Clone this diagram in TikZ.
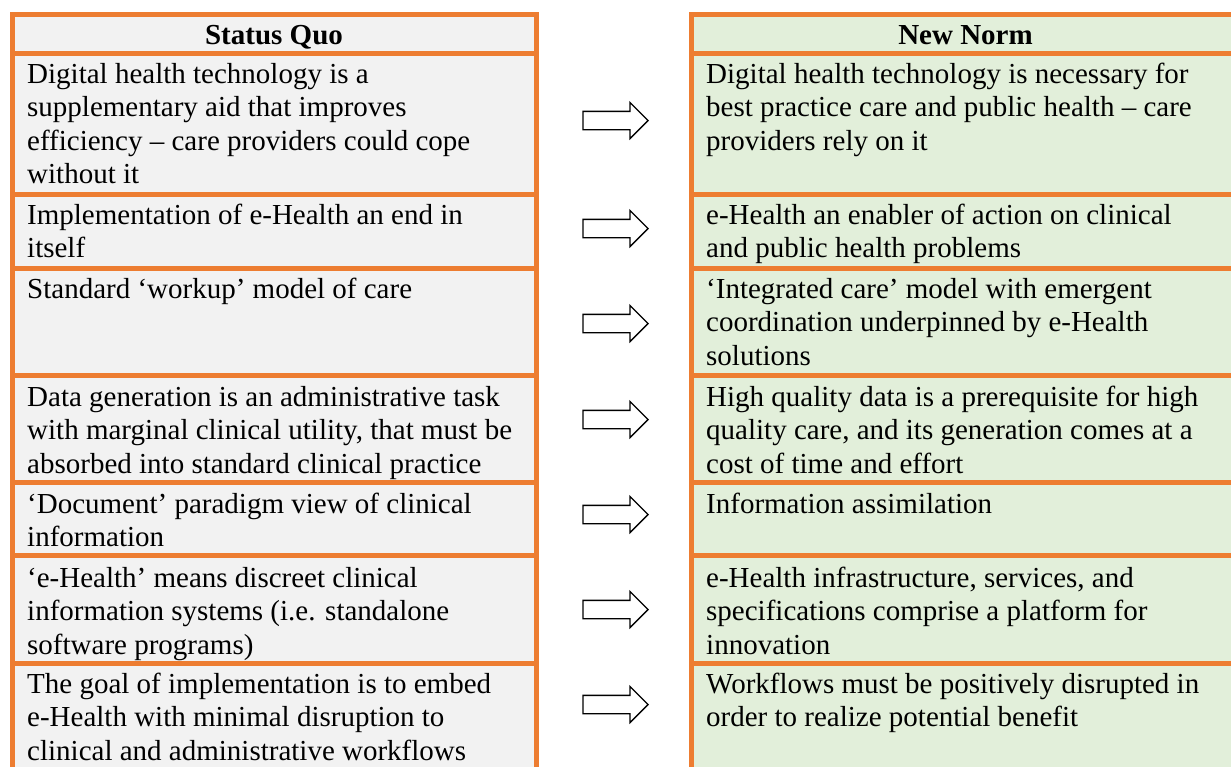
\documentclass[tikz,border=0pt]{standalone}
\usepackage{fontspec}
\setmainfont{Liberation Serif}
\usetikzlibrary{shapes.arrows}
\definecolor{bord}{HTML}{ED7D31}
\definecolor{sqfill}{HTML}{F2F2F2}
\definecolor{nnfill}{HTML}{E2EFDA}
\newcommand{\celltxt}[1]{\parbox[t]{525pt}{\raggedright #1}}
\tikzset{
  cellL/.style={fill=sqfill, draw=bord, line width=5pt},
  cellR/.style={fill=nnfill, draw=bord, line width=5pt},
  celltext/.style={anchor=base west, inner sep=0pt, font=\fontsize{29}{33.6}\selectfont},
  headtext/.style={anchor=base, inner sep=0pt, font=\fontsize{29}{33.6}\selectfont\bfseries},
  shiftarrow/.style={single arrow, draw=black, fill=white, line width=1.3pt,
    minimum height=65pt, single arrow head extend=9pt, inner xsep=0pt,
    inner ysep=8.5pt, text height=0pt, text depth=0pt}
}
\begin{document}
\begin{tikzpicture}[x=1pt, y=-1pt]
\useasboundingbox (0,0) rectangle (1231,766);
\clip (0,0) rectangle (1231,766);
\fill[white] (0,0) rectangle (1231,766);
% left column cells
\draw[cellL] (12,14.5) rectangle (536,53.5);
\draw[cellL] (12,53.5) rectangle (536,194.5);
\draw[cellL] (12,194.5) rectangle (536,268.5);
\draw[cellL] (12,268.5) rectangle (536,375.5);
\draw[cellL] (12,375.5) rectangle (536,482.5);
\draw[cellL] (12,482.5) rectangle (536,555.5);
\draw[cellL] (12,555.5) rectangle (536,663.5);
\draw[cellL] (12,663.5) rectangle (536,800);
% right column cells
\draw[cellR] (691,14.5) rectangle (1240,53.5);
\draw[cellR] (691,53.5) rectangle (1240,194.5);
\draw[cellR] (691,194.5) rectangle (1240,268.5);
\draw[cellR] (691,268.5) rectangle (1240,375.5);
\draw[cellR] (691,375.5) rectangle (1240,482.5);
\draw[cellR] (691,482.5) rectangle (1240,555.5);
\draw[cellR] (691,555.5) rectangle (1240,663.5);
\draw[cellR] (691,663.5) rectangle (1240,800);
% headers
\node[headtext] (hL) at (274,44) {Status Quo};
\node[headtext] (hR) at (965.5,44) {New Norm};
% left texts
\node[celltext] (L1) at (27,83) {\celltxt{Digital health technology is a\\supplementary aid that improves\\efficiency – care providers could cope\\without it}};
\node[celltext] (L2) at (27,224) {\celltxt{Implementation of e-Health an end in\\itself}};
\node[celltext] (L3) at (27,298) {\celltxt{Standard ‘workup’ model of care}};
\node[celltext] (L4) at (27,406) {\celltxt{Data generation is an administrative task\\with marginal clinical utility, that must be\\absorbed into standard clinical practice}};
\node[celltext] (L5) at (27,513) {\celltxt{‘Document’ paradigm view of clinical\\information}};
\node[celltext] (L6) at (27,587) {\celltxt{‘e-Health’ means discreet clinical\\information systems (i.e. standalone\\software programs)}};
\node[celltext] (L7) at (27,693) {\celltxt{The goal of implementation is to embed\\e-Health with minimal disruption to\\clinical and administrative workflows}};
% right texts
\node[celltext] (R1) at (706,83) {\celltxt{Digital health technology is necessary for\\best practice care and public health – care\\providers rely on it}};
\node[celltext] (R2) at (706,224) {\celltxt{e-Health an enabler of action on clinical\\and public health problems}};
\node[celltext] (R3) at (706,298) {\celltxt{‘Integrated care’ model with emergent\\coordination underpinned by e-Health\\solutions}};
\node[celltext] (R4) at (706,406) {\celltxt{High quality data is a prerequisite for high\\quality care, and its generation comes at a\\cost of time and effort}};
\node[celltext] (R5) at (706,513) {\celltxt{Information assimilation}};
\node[celltext] (R6) at (706,587) {\celltxt{e-Health infrastructure, services, and\\specifications comprise a platform for\\innovation}};
\node[celltext] (R7) at (706,693) {\celltxt{Workflows must be positively disrupted in\\order to realize potential benefit}};
% arrows
\node[shiftarrow] (A1) at (611,120.5) {};
\node[shiftarrow] (A2) at (611,228.5) {};
\node[shiftarrow] (A3) at (611,323.5) {};
\node[shiftarrow] (A4) at (611,419.5) {};
\node[shiftarrow] (A5) at (611,514.5) {};
\node[shiftarrow] (A6) at (611,609.5) {};
\node[shiftarrow] (A7) at (611,704.5) {};
\end{tikzpicture}
\end{document}
